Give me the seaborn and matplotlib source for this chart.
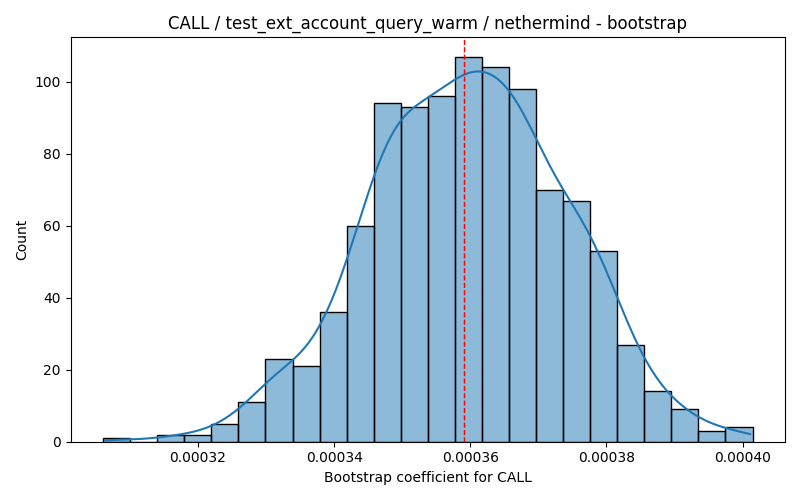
import numpy as np
import pandas as pd
import matplotlib
matplotlib.use("Agg")
import matplotlib.pyplot as plt
import seaborn as sns

# Histogram bin layout
bin_start = 0.00030607
bin_end = 0.00040147
n_bins = 24
counts = [1, 0, 2, 2, 5, 11, 23, 21, 36, 60, 94, 93, 96, 107, 104, 98,
          70, 67, 53, 27, 14, 9, 3, 4]
point_estimate = 0.00035909

title = "CALL / test_ext_account_query_warm / nethermind - bootstrap"
xlabel = "Bootstrap coefficient for CALL"

edges = np.linspace(bin_start, bin_end, n_bins + 1)
centers = (edges[:-1] + edges[1:]) / 2
df = pd.DataFrame({"coef": centers, "count": counts})

# bandwidth correction: weighted data has small effective n
w = np.array(counts, dtype=float)
n_total = w.sum()
n_eff = n_total ** 2 / (w ** 2).sum()
bw_adj = (n_total ** -0.2) / (n_eff ** -0.2)
mean = np.average(centers, weights=w)
std = np.sqrt(np.average((centers - mean) ** 2, weights=w) * n_eff / (n_eff - 1))
bw = bw_adj * n_eff ** -0.2 * std
cut = 0.5 * (edges[1] - edges[0]) / 2 / bw

fig, ax = plt.subplots(figsize=(8, 5), dpi=100)
sns.histplot(data=df, x="coef", weights="count", bins=n_bins,
             binrange=(bin_start, bin_end), kde=True, ax=ax,
             kde_kws={"bw_adjust": bw_adj, "cut": cut},
             color="#1f77b4", edgecolor="black", alpha=0.5, linewidth=1)
ax.axvline(point_estimate, color="red", linestyle="--", linewidth=1)
span = bin_end - bin_start
ax.set_xlim(bin_start - 0.05 * span, bin_end + 0.05 * span)
ax.set_title(title)
ax.set_xlabel(xlabel)
ax.set_ylabel("Count")
fig.tight_layout()
fig.savefig("out.png", dpi=100)
